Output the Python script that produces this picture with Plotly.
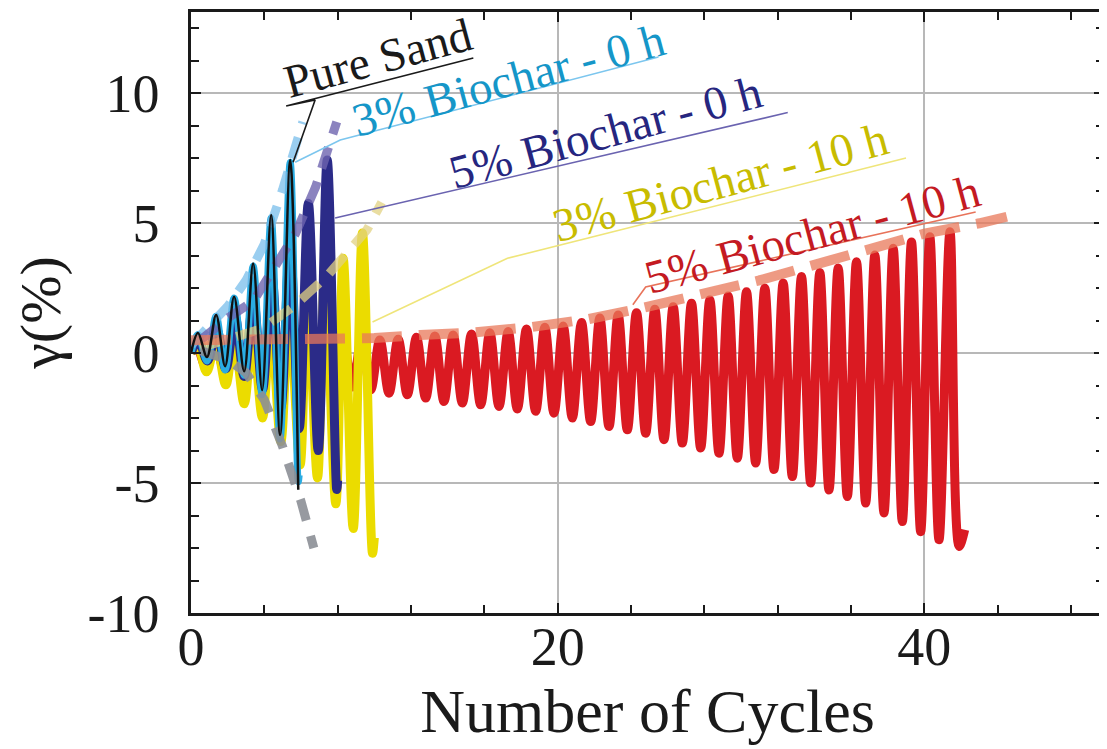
import plotly.graph_objects as go

# ---------------- data ----------------
# 5% Biochar - 10 h (red)
red_peak_x = [0.3, 1.3, 2.3, 3.3, 4.3, 5.3, 6.3, 7.3, 8.3, 9.3,
              10.3, 11.3, 12.3, 13.3, 14.3, 15.3, 16.3, 17.3, 18.3, 19.3,
              20.3, 21.3, 22.3, 23.3, 24.3, 25.3, 26.3, 27.3, 28.3, 29.3,
              30.3, 31.3, 32.3, 33.3, 34.3, 35.3, 36.3, 37.3, 38.3, 39.3,
              40.3, 41.4]
red_peak_y = [0.30, 0.35, 0.38, 0.40, 0.42, 0.44, 0.46, 0.48, 0.50, 0.50,
              0.51, 0.54, 0.61, 0.66, 0.70, 0.74, 0.79, 0.83, 0.93, 1.00,
              1.05, 1.18, 1.35, 1.47, 1.56, 1.69, 1.79, 1.92, 2.05, 2.20,
              2.36, 2.50, 2.70, 2.95, 3.10, 3.28, 3.52, 3.78, 4.04, 4.28,
              4.48, 4.67]
red_trough_x = [0.8, 1.8, 2.8, 3.8, 4.8, 5.8, 6.8, 7.8, 8.8, 9.8,
                10.8, 11.8, 12.8, 13.8, 14.8, 15.8, 16.8, 17.8, 18.8, 19.8,
                20.8, 21.8, 22.8, 23.8, 24.8, 25.8, 26.8, 27.8, 28.8, 29.8,
                30.8, 31.8, 32.8, 33.8, 34.8, 35.8, 36.8, 37.8, 38.8, 39.8,
                40.8, 41.9]
red_trough_y = [-0.50, -0.60, -0.70, -0.80, -0.90, -1.00, -1.10, -1.20, -1.30, -1.42,
                -1.54, -1.60, -1.73, -1.86, -1.92, -1.99, -2.05, -2.15, -2.24, -2.31,
                -2.50, -2.63, -2.82, -2.95, -3.08, -3.33, -3.46, -3.65, -3.85, -4.04,
                -4.23, -4.48, -4.75, -5.00, -5.27, -5.52, -5.77, -6.15, -6.48, -6.87,
                -7.18, -7.44]
red_end = (42.2, -6.8)

# 3% Biochar - 10 h (yellow)
yel_peak_x = [0.35, 1.35, 2.35, 3.35, 4.35, 5.35, 6.35, 7.3, 8.3, 9.35]
yel_peak_y = [0.3, 0.4, 0.6, 0.8, 1.1, 1.6, 2.4, 3.0, 3.65, 4.62]
yel_trough_x = [0.85, 1.9, 2.9, 3.9, 4.9, 5.95, 6.9, 7.9, 8.85, 9.9]
yel_trough_y = [-0.72, -1.22, -1.95, -2.5, -3.4, -4.3, -4.8, -5.8, -6.75, -7.7]
yel_end = (10.0, -7.1)

# 5% Biochar - 0 h (navy)
nav_peak_x = [0.4, 1.4, 2.4, 3.4, 4.4, 5.4, 6.4, 7.43]
nav_peak_y = [0.5, 0.9, 1.4, 2.1, 3.0, 4.2, 5.77, 7.43]
nav_trough_x = [0.9, 1.9, 2.9, 3.9, 4.9, 5.9, 6.94, 7.95]
nav_trough_y = [-0.3, -0.6, -0.9, -1.4, -2.1, -2.9, -3.75, -5.25]
nav_end = (8.0, -4.9)

# 3% Biochar - 0 h (cyan)
cya_peak_x = [0.38, 1.37, 2.35, 3.39, 4.37, 5.41]
cya_peak_y = [0.72, 1.42, 2.12, 3.35, 5.2, 7.35]
cya_trough_x = [0.87, 1.86, 2.9, 3.88, 4.86, 5.85]
cya_trough_y = [-0.3, -0.65, -0.85, -1.6, -3.3, -4.95]
cya_end = (5.9, -4.7)

# Pure Sand (black)
blk_peak_x = [0.38, 1.37, 2.35, 3.39, 4.37, 5.41]
blk_peak_y = [0.78, 1.47, 2.17, 3.45, 5.32, 7.43]
blk_trough_x = [0.87, 1.86, 2.9, 3.88, 4.86, 5.85]
blk_trough_y = [-0.15, -0.5, -0.7, -1.42, -3.15, -5.26]

# dashed trend lines
blue_trend_x = [0.0, 1.0, 2.0, 3.0, 4.0, 5.0, 6.1]
blue_trend_y = [0.3, 1.0, 1.8, 2.8, 4.2, 6.3, 8.9]
purple_trend_x = [0.5, 2.0, 3.4, 4.5, 5.7, 6.8, 7.95]
purple_trend_y = [0.5, 1.35, 2.0, 3.3, 4.6, 6.4, 8.9]
tan_trend_x = [0.5, 2.4, 3.9, 5.6, 7.4, 9.6, 10.4]
tan_trend_y = [0.2, 0.6, 0.95, 1.8, 2.95, 4.75, 5.8]
gray_trend_x = [0.5, 2.0, 3.0, 4.0, 5.0, 6.0, 6.7]
gray_trend_y = [0.1, -0.25, -0.75, -1.8, -3.6, -5.7, -7.5]
salmon_trend_x = [0, 10, 12.5, 15.5, 18.5, 21.6, 24.7, 28, 31, 34, 37, 40, 43, 44.5]
salmon_trend_y = [0.5, 0.58, 0.7, 0.8, 1.0, 1.3, 1.75, 2.25, 2.8, 3.4, 4.0, 4.6, 5.0, 5.25]

# labels
labels = ["Pure Sand", "3% Biochar - 0 h", "5% Biochar - 0 h", "3% Biochar - 10 h", "5% Biochar - 10 h"]
label_x = [10.2, 17.3, 22.6, 28.9, 33.9]
label_y = [11.35, 10.5, 8.5, 6.6, 4.6]
label_colors = ["#1a1a1a", "#1596c8", "#26267f", "#c8bc00", "#c41a22"]
leader_x = [[5.57, 6.77, 5.19, 15.4], [5.68, 8.14, 25.5], [7.86, 32.55], [9.9, 17.26, 39.0], [24.1, 24.8, 42.8]]
leader_y = [[7.35, 9.74, 9.51, 11.36], [7.35, 8.2, 11.4], [5.2, 9.26], [1.2, 3.65, 7.51], [1.86, 2.55, 5.43]]
leader_colors = ["#1a1a1a", "#7cc6ee", "#6a63b0", "#efe57a", "#e8735a"]

x_ticks = [0, 20, 40]
y_ticks = [-10, -5, 0, 5, 10]


def wave(px, py, tx, ty, end=None):
    xs, ys = [0.0], [0.0]
    for a, b, c, d in zip(px, py, tx, ty):
        xs += [a, c]
        ys += [b, d]
    if end is not None:
        xs.append(end[0])
        ys.append(end[1])
    return xs, ys


fig = go.Figure()
FONT = "Liberation Serif, Times New Roman, serif"


def add_wave(xs, ys, color, width):
    fig.add_trace(go.Scatter(x=xs, y=ys, mode="lines",
                             line=dict(color=color, width=width, shape="spline", smoothing=1.0),
                             showlegend=False, hoverinfo="skip"))


add_wave(*wave(red_peak_x, red_peak_y, red_trough_x, red_trough_y, red_end), "#da1a22", 9)
add_wave(*wave(yel_peak_x, yel_peak_y, yel_trough_x, yel_trough_y, yel_end), "#ebdc00", 9)
add_wave(*wave(nav_peak_x, nav_peak_y, nav_trough_x, nav_trough_y, nav_end), "#2b2b88", 9)
add_wave(*wave(cya_peak_x, cya_peak_y, cya_trough_x, cya_trough_y, cya_end), "#2aace2", 7)


def add_dash(xs, ys, color, dash, width=9):
    fig.add_trace(go.Scatter(x=xs, y=ys, mode="lines",
                             line=dict(color=color, width=width, dash=dash),
                             showlegend=False, hoverinfo="skip"))


add_dash(blue_trend_x, blue_trend_y, "rgba(120,190,235,0.75)", "22px,14px")
add_dash(purple_trend_x, purple_trend_y, "rgba(110,100,175,0.8)", "22px,14px")
add_dash(tan_trend_x, tan_trend_y, "rgba(225,210,130,0.75)", "24px,14px")
add_dash(gray_trend_x, gray_trend_y, "rgba(140,143,150,0.9)", "22px,16px")
add_dash(salmon_trend_x, salmon_trend_y, "rgba(232,120,90,0.75)", "40px,17px", 10)

add_wave(*wave(blk_peak_x, blk_peak_y, blk_trough_x, blk_trough_y), "#111111", 2.5)

# leader / underline lines
for lx, ly, lc in zip(leader_x, leader_y, leader_colors):
    fig.add_trace(go.Scatter(x=lx, y=ly, mode="lines", line=dict(color=lc, width=1.6),
                             showlegend=False, hoverinfo="skip"))

for t, x, y, c in zip(labels, label_x, label_y, label_colors):
    fig.add_annotation(x=x, y=y, text=t, showarrow=False, textangle=-15,
                       font=dict(family=FONT, size=47, color=c), xanchor="center", yanchor="middle")

axis_common = dict(showline=True, linecolor="#1a1a1a", linewidth=2.5, mirror="ticks",
                   ticks="inside", ticklen=10, tickwidth=2, tickcolor="#1a1a1a",
                   showgrid=True, gridcolor="#b8b8b8", gridwidth=2, zeroline=False,
                   tickfont=dict(family=FONT, size=54, color="#1a1a1a"))

fig.update_xaxes(range=[0, 49.8], tickvals=x_ticks, ticktext=[str(v) for v in x_ticks],
                 minor=dict(ticks="inside", dtick=4, tick0=0, ticklen=8, tickwidth=2,
                            tickcolor="#1a1a1a", showgrid=False),
                 ticklabelstandoff=-16,
                 title=dict(text="Number of Cycles", font=dict(family=FONT, size=62, color="#1a1a1a"),
                            standoff=0),
                 **axis_common)
fig.update_yaxes(range=[-10, 13.13], tickvals=y_ticks, ticktext=[str(v) for v in y_ticks],
                 minor=dict(ticks="inside", dtick=1.25, tick0=0, ticklen=8, tickwidth=2,
                            tickcolor="#1a1a1a", showgrid=False),
                 ticklabelstandoff=18,
                 title=dict(text="γ(%)", font=dict(family=FONT, size=58, color="#1a1a1a"),
                            standoff=10),
                 **axis_common)

# margins compensate for the 8px default page margin around the figure
fig.update_layout(width=1107, height=749, plot_bgcolor="white", paper_bgcolor="white",
                  margin=dict(l=183, r=11, t=4, b=144, autoexpand=False))

fig.write_html("out.html")
